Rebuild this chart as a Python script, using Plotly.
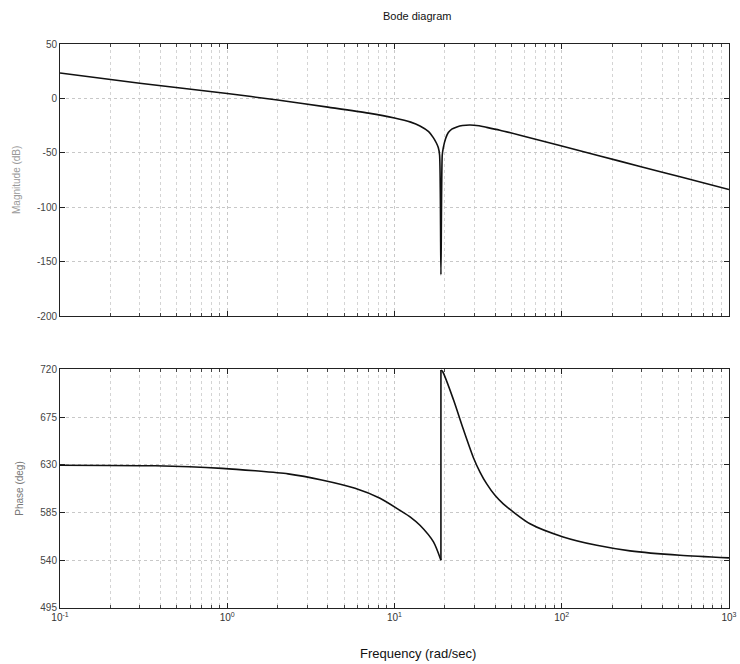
import plotly.graph_objects as go

# Magnitude curve (rad/sec, dB)
mag_w = [0.1, 0.3, 1.0, 2.0, 4.0, 7.0, 10.0, 12.5, 14.2, 16.0, 17.06, 17.8, 18.27, 18.6, 18.95,
         19.3, 19.58, 20.2, 20.98, 22.0, 23.6, 25.5, 28.3, 32.0, 35.6, 42.7, 56.3, 169.0, 294.0, 510.0, 1000.0]
mag_db = [23.4, 14.0, 4.5, -1.5, -8.0, -13.5, -18.0, -21.8, -25.3, -30.5, -36.0, -41.0, -45.2, -52.0, -162.0,
          -52.0, -45.2, -37.0, -31.4, -28.2, -26.2, -24.9, -24.4, -25.2, -26.6, -29.2, -33.8, -52.9, -62.5, -72.1, -83.8]

# Phase curve (rad/sec, deg): branch below and above the jump
ph_w_low = [0.1, 0.37, 0.93, 1.47, 2.31, 3.67, 5.81, 8.19, 10.8, 12.5, 14.2, 17.1, 18.95]
ph_deg_low = [629.7, 629.1, 626.7, 624.4, 621.5, 615.8, 607.9, 598.5, 587.0, 580.5, 573.0, 557.3, 540.0]
ph_w_high = [18.95, 19.4, 22.5, 25.8, 29.6, 32.5, 35.6, 40.0, 44.7, 64.6, 102.0, 162.0, 256.0, 509.0, 1000.0]
ph_deg_high = [719.5, 718.0, 691.6, 663.5, 637.0, 623.0, 612.0, 601.0, 593.2, 574.4, 562.0, 554.1, 548.9, 544.7, 542.3]

mag_ticks = [50, 0, -50, -100, -150, -200]
ph_ticks = [720, 675, 630, 585, 540, 495]
x_ticks = [0.1, 1, 10, 100, 1000]
x_ticklabels = ["10<sup>-1</sup>", "10<sup>0</sup>", "10<sup>1</sup>", "10<sup>2</sup>", "10<sup>3</sup>"]
x_minor = [m * d for d in [0.1, 1, 10, 100] for m in range(2, 10)]

FONT = "Liberation Sans, Arial, Helvetica, sans-serif"
LINE = dict(color="#111", width=1.6, shape="spline", smoothing=0.7)

fig = go.Figure()
fig.add_trace(go.Scatter(x=mag_w, y=mag_db, mode="lines", line=LINE,
                         xaxis="x", yaxis="y", showlegend=False))
fig.add_trace(go.Scatter(x=ph_w_low, y=ph_deg_low, mode="lines", line=LINE,
                         xaxis="x2", yaxis="y2", showlegend=False))
fig.add_trace(go.Scatter(x=[ph_w_low[-1], ph_w_high[0]], y=[ph_deg_low[-1], ph_deg_high[0]],
                         mode="lines", line=dict(color="#111", width=1.6),
                         xaxis="x2", yaxis="y2", showlegend=False))
fig.add_trace(go.Scatter(x=ph_w_high, y=ph_deg_high, mode="lines", line=LINE,
                         xaxis="x2", yaxis="y2", showlegend=False))

common_x = dict(type="log", range=[-1, 3], showline=True, linecolor="#222", linewidth=1,
                mirror="allticks", ticks="inside", ticklen=5, tickcolor="#222",
                tickvals=x_ticks, ticktext=x_ticklabels, automargin=False,
                showgrid=True, gridcolor="#c8c8c8", griddash="dot", gridwidth=1,
                minor=dict(tickvals=x_minor, ticks="inside", ticklen=3, tickcolor="#444",
                           showgrid=True, gridcolor="#d4d4d4", griddash="dot", gridwidth=1),
                zeroline=False, tickfont=dict(family=FONT, size=10, color="#333"))
common_y = dict(showline=True, linecolor="#222", linewidth=1, mirror="allticks",
                ticks="inside", ticklen=5, tickcolor="#222", automargin=False,
                showgrid=True, gridcolor="#c8c8c8", griddash="dot", gridwidth=1,
                zeroline=False, tickfont=dict(family=FONT, size=10, color="#444"))

fig.update_layout(
    width=740, height=664,
    margin=dict(l=60, r=11, t=43.5, b=55.5),
    paper_bgcolor="white", plot_bgcolor="white",
    font=dict(family=FONT, color="#222"),
    xaxis=dict(common_x, domain=[0, 1], anchor="y", showticklabels=False, matches="x2"),
    yaxis=dict(common_y, domain=[0.5177, 1], anchor="x", range=[-200, 50],
               tickvals=mag_ticks, ticktext=[str(v) for v in mag_ticks]),
    xaxis2=dict(common_x, domain=[0, 1], anchor="y2"),
    yaxis2=dict(common_y, domain=[0, 0.423], anchor="x2", range=[495, 720],
                tickvals=ph_ticks, ticktext=[str(v) for v in ph_ticks]),
    annotations=[
        dict(text="Bode diagram", xref="paper", yref="paper", x=(417 - 60) / 669, y=1,
             yshift=28, showarrow=False, font=dict(family=FONT, size=11, color="#111"),
             xanchor="center", yanchor="middle"),
        dict(text="Magnitude (dB)", xref="paper", yref="paper", x=(16 - 60) / 669,
             y=(0.5177 + 1) / 2, textangle=-90, showarrow=False,
             font=dict(family=FONT, size=10, color="#999"), xanchor="center", yanchor="middle"),
        dict(text="Phase (deg)", xref="paper", yref="paper", x=(20 - 60) / 669,
             y=0.423 / 2, textangle=-90, showarrow=False,
             font=dict(family=FONT, size=10, color="#777"), xanchor="center", yanchor="middle"),
        dict(text="Frequency (rad/sec)", xref="paper", yref="paper", x=(418 - 60) / 669, y=0,
             yshift=-45, showarrow=False, font=dict(family=FONT, size=13, color="#111"),
             xanchor="center", yanchor="middle"),
    ],
)

fig.write_html("out.html")
